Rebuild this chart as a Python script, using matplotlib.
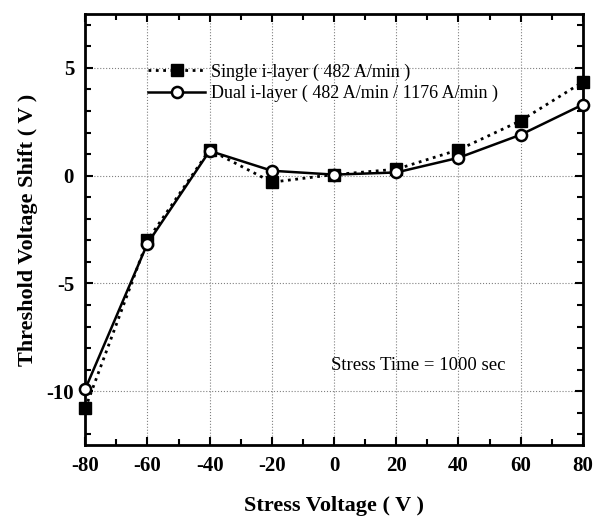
import matplotlib.pyplot as plt
from matplotlib.ticker import MultipleLocator

plt.rcParams['font.family'] = ['Liberation Serif', 'DejaVu Serif']
plt.rcParams['axes.unicode_minus'] = False

stress_v = [-80, -60, -40, -20, 0, 20, 40, 60, 80]
single = [-10.8, -3.0, 1.2, -0.3, 0.05, 0.3, 1.2, 2.55, 4.35]
dual = [-9.9, -3.15, 1.15, 0.23, 0.05, 0.15, 0.83, 1.9, 3.3]

fig = plt.figure(figsize=(5.96, 5.2), dpi=100)
ax = fig.add_axes([0.143, 0.144, 0.835, 0.829])

ax.plot(stress_v, single, linestyle=':', color='black', linewidth=2,
        marker='s', markersize=8, markerfacecolor='black', clip_on=False, zorder=3,
        label='Single i-layer ( 482 A/min )')
ax.plot(stress_v, dual, linestyle='-', color='black', linewidth=1.8,
        marker='o', markersize=8, markerfacecolor='white', markeredgewidth=1.8,
        clip_on=False, zorder=4,
        label='Dual i-layer ( 482 A/min / 1176 A/min )')

ax.set_xlim(-80, 80)
ax.set_ylim(-12.5, 7.5)
ax.xaxis.set_major_locator(MultipleLocator(20))
ax.xaxis.set_minor_locator(MultipleLocator(10))
ax.yaxis.set_major_locator(MultipleLocator(5))
ax.yaxis.set_minor_locator(MultipleLocator(1))
ax.tick_params(which='both', direction='in', top=True, right=True, width=1.5)
ax.tick_params(which='major', length=6, labelsize=15)
ax.tick_params(which='minor', length=4)
for lab in ax.get_xticklabels() + ax.get_yticklabels():
    lab.set_fontweight('bold')
ax.tick_params(axis='x', pad=8)
ax.tick_params(axis='y', pad=8)

ax.grid(True, which='major', linestyle=':', color='gray', linewidth=0.8)
for s in ax.spines.values():
    s.set_linewidth(2)

ax.set_xlabel('Stress Voltage ( V )', fontsize=16, fontweight='bold', labelpad=14)
ax.set_ylabel('Threshold Voltage Shift ( V )', fontsize=16, fontweight='bold', labelpad=6)

ax.legend(loc='upper left', bbox_to_anchor=(0.1, 0.915), frameon=False,
          fontsize=13, handlelength=3.2, handletextpad=0.3, borderpad=0.2,
          labelspacing=0.25)
ax.text(27, -8.8, 'Stress Time = 1000 sec', fontsize=13.5, ha='center', va='center')

fig.savefig('out.png', dpi=100)
